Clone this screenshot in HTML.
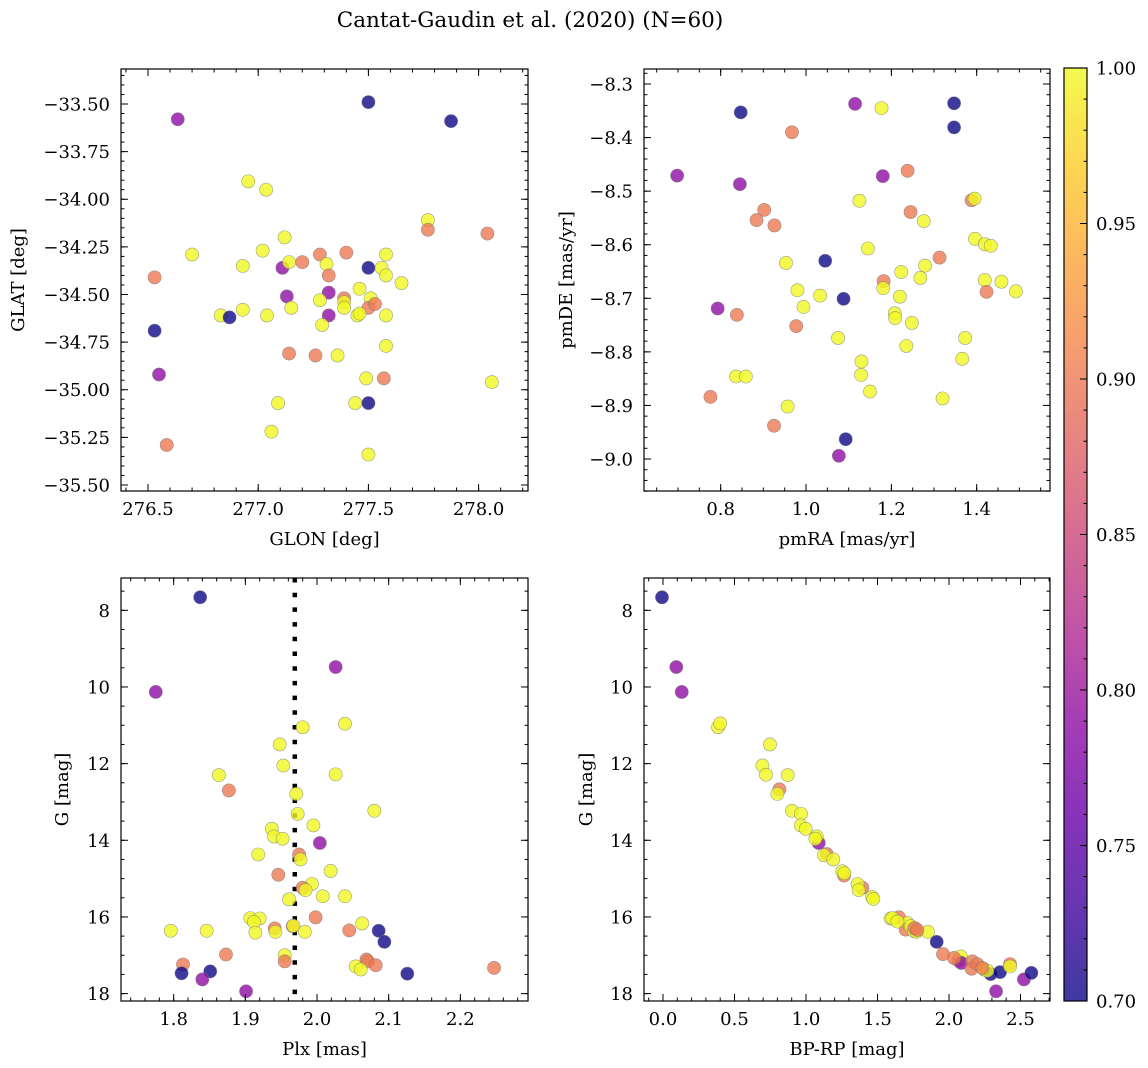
<!DOCTYPE html>
<html><head><meta charset="utf-8">
<style>
html,body{margin:0;padding:0;background:#fff;}
svg{display:block;font-family:"DejaVu Serif","Liberation Serif",serif;}
</style></head>
<body>
<svg id="fig" width="1148" height="1068" viewBox="0 0 1148 1068" xmlns="http://www.w3.org/2000/svg">
<defs>
<linearGradient id="plasmaGrad" x1="0" y1="1" x2="0" y2="0">
<stop offset="0" stop-color="#0d0887"/><stop offset="0.1" stop-color="#41049d"/><stop offset="0.2" stop-color="#6a00a8"/><stop offset="0.3" stop-color="#8f0da4"/><stop offset="0.4" stop-color="#b12a90"/><stop offset="0.5" stop-color="#cc4778"/><stop offset="0.6" stop-color="#e16462"/><stop offset="0.7" stop-color="#f2844b"/><stop offset="0.8" stop-color="#fca636"/><stop offset="0.9" stop-color="#fcce25"/><stop offset="1" stop-color="#f0f921"/>
</linearGradient>
</defs>
<text x="530" y="27" font-size="21.5" text-anchor="middle">Cantat-Gaudin et al. (2020) (N=60)</text>
</svg>
<script>
// ---- data ----
const tlLon = [277.50,277.875,276.635,276.955,277.036,277.77,277.77,278.04,277.12,276.70,277.02,277.28,277.40,277.58,276.53,276.93,277.11,277.14,277.20,277.31,277.50,277.56,277.58,277.32,277.65,277.13,277.32,277.46,277.28,277.39,277.39,277.39,277.51,277.50,277.53,277.45,277.46,277.58,277.15,276.93,276.83,276.87,277.04,277.32,277.29,276.53,277.58,277.14,277.26,277.36,276.55,277.49,277.57,278.06,277.09,277.44,277.50,277.06,276.585,277.50];
const tlLat = [-33.49,-33.59,-33.58,-33.906,-33.95,-34.11,-34.16,-34.18,-34.20,-34.29,-34.27,-34.29,-34.28,-34.29,-34.41,-34.35,-34.36,-34.33,-34.33,-34.34,-34.36,-34.36,-34.40,-34.40,-34.44,-34.51,-34.49,-34.47,-34.53,-34.52,-34.54,-34.57,-34.52,-34.57,-34.55,-34.61,-34.60,-34.61,-34.57,-34.58,-34.61,-34.62,-34.61,-34.61,-34.66,-34.69,-34.77,-34.81,-34.82,-34.82,-34.92,-34.94,-34.94,-34.96,-35.07,-35.07,-35.07,-35.22,-35.29,-35.34];
const tlProb = [0.70,0.70,0.79,1,1,1,0.9,0.9,1,1,1,0.9,0.9,1,0.9,1,0.79,1,0.9,1,0.70,1,1,0.9,1,0.79,0.79,1,1,0.9,1,1,1,0.9,0.9,1,1,1,1,1,1,0.70,1,0.79,1,0.70,1,0.9,0.9,1,0.79,1,0.9,1,1,1,0.70,1,0.9,1];

const trPmra = [0.847,1.115,1.177,1.347,1.347,0.967,0.698,0.845,1.180,1.238,1.125,1.388,1.395,0.902,0.884,0.926,1.245,1.276,1.396,1.419,1.433,1.145,1.313,0.953,1.045,1.223,1.279,1.268,1.182,1.181,1.419,1.458,1.423,1.492,0.980,1.033,1.088,1.220,0.994,0.793,0.838,1.208,1.209,1.248,0.977,1.075,1.373,1.235,1.366,1.130,0.836,0.859,1.129,1.150,0.776,1.320,0.957,0.925,1.093,1.077];
const trPmde = [-8.353,-8.337,-8.345,-8.336,-8.381,-8.390,-8.471,-8.487,-8.472,-8.462,-8.518,-8.517,-8.514,-8.535,-8.554,-8.564,-8.539,-8.556,-8.589,-8.599,-8.602,-8.607,-8.624,-8.634,-8.630,-8.651,-8.639,-8.662,-8.668,-8.681,-8.666,-8.669,-8.688,-8.687,-8.685,-8.695,-8.701,-8.697,-8.716,-8.719,-8.731,-8.728,-8.737,-8.746,-8.752,-8.774,-8.774,-8.789,-8.813,-8.818,-8.846,-8.846,-8.843,-8.874,-8.884,-8.887,-8.902,-8.938,-8.963,-8.994];
const trProb = [0.70,0.79,1,0.70,0.70,0.9,0.79,0.79,0.79,0.9,1,0.9,1,0.9,0.9,0.9,0.9,1,1,1,1,1,0.9,1,0.70,1,1,1,0.9,1,1,1,0.9,1,1,1,0.70,1,1,0.79,0.9,1,1,1,0.9,1,1,1,1,1,1,1,1,1,0.9,1,1,0.9,0.70,0.79];

const blPlx = [1.837,1.775,2.026,1.980,2.039,1.948,1.953,1.863,2.026,1.877,1.971,2.080,1.973,1.937,1.995,1.940,1.952,2.004,1.918,1.975,1.977,2.019,1.946,1.993,1.980,1.984,1.961,2.008,2.039,1.907,1.920,1.912,1.998,1.796,1.846,1.914,1.941,1.942,1.966,1.967,1.983,2.045,2.063,2.086,2.094,1.873,1.955,1.955,1.813,1.811,1.851,1.840,1.901,2.069,2.071,2.082,2.054,2.061,2.126,2.247];
const blG = [7.66,10.13,9.48,11.05,10.96,11.50,12.05,12.30,12.28,12.70,12.79,13.23,13.31,13.70,13.61,13.90,13.96,14.07,14.37,14.37,14.50,14.80,14.90,15.14,15.24,15.30,15.54,15.46,15.46,16.03,16.04,16.13,16.01,16.36,16.36,16.41,16.30,16.39,16.24,16.23,16.39,16.35,16.17,16.36,16.65,16.98,17.00,17.16,17.24,17.47,17.42,17.63,17.94,17.11,17.16,17.26,17.29,17.37,17.48,17.33];
const blProb = [0.70,0.79,0.79,1,1,1,1,1,1,0.9,1,1,1,1,1,1,1,0.79,1,0.9,1,1,0.9,1,0.9,1,1,1,1,1,1,1,0.9,1,1,1,0.9,1,0.9,1,1,0.9,1,0.70,0.70,0.9,1,0.9,0.9,0.70,0.70,0.79,0.79,0.9,0.9,0.9,1,1,0.70,0.9];
const plxMean = [1.969];

const brColor = [-0.007,0.093,0.131,0.385,0.40,0.748,0.695,0.72,0.872,0.814,0.80,0.902,0.965,0.963,0.998,1.089,1.075,1.065,1.145,1.126,1.191,1.266,1.254,1.394,1.361,1.368,1.462,1.471,1.65,1.592,1.604,1.709,1.697,1.732,1.755,1.774,1.853,1.76,1.914,1.958,2.065,2.082,2.086,2.163,2.158,2.198,2.245,2.291,2.357,2.427,2.427,2.524,2.576,2.329,2.268,2.035,2.233,1.779,1.639,1.268];
const brG = [7.66,9.48,10.13,11.05,10.95,11.50,12.05,12.29,12.30,12.67,12.79,13.23,13.31,13.61,13.70,14.07,13.90,13.96,14.36,14.39,14.50,14.92,14.81,15.24,15.14,15.30,15.48,15.53,16.01,16.04,16.03,16.16,16.33,16.24,16.37,16.39,16.39,16.29,16.65,16.97,17.14,17.03,17.20,17.16,17.35,17.23,17.37,17.49,17.44,17.23,17.29,17.63,17.46,17.94,17.40,17.07,17.33,16.34,16.12,14.86];
const brProb = [0.70,0.79,0.79,1,1,1,1,1,1,0.9,1,1,1,1,1,0.79,1,1,0.9,1,1,0.9,1,0.9,1,1,1,1,0.9,1,1,1,0.9,1,1,1,1,0.9,0.70,0.9,0.9,1,0.79,0.9,0.9,0.9,1,0.70,0.70,0.9,1,0.79,0.70,0.79,1,0.9,0.9,0.9,1,1];

const cbTicks = [0.70,0.75,0.80,0.85,0.90,0.95,1.00];

// ---- helpers ----
const NS = "http://www.w3.org/2000/svg";
const svg = document.getElementById("fig");
function mk(tag, attrs, parent){
  const e = document.createElementNS(NS, tag);
  for (const k in attrs) e.setAttribute(k, attrs[k]);
  (parent||svg).appendChild(e);
  return e;
}
const PL = [[13,8,135],[65,4,157],[106,0,168],[143,13,164],[177,42,144],[204,71,120],[225,100,98],[242,132,75],[252,166,54],[252,206,37],[240,249,33]];
function plasma(p){
  let t = (p-0.70)/0.30; t = Math.max(0, Math.min(1, t));
  const f = t*10, i = Math.min(9, Math.floor(f)), r = f - i;
  const c = PL[i].map((v,k)=>Math.round(v + (PL[i+1][k]-v)*r));
  return "rgb("+c.join(",")+")";
}
function lin(d0,d1,r0,r1){ return v => r0 + (v-d0)/(d1-d0)*(r1-r0); }
function range(a,b,s){ const out=[]; const n=Math.round((b-a)/s); for(let i=0;i<=n;i++) out.push(+(a+i*s).toFixed(6)); return out; }
const fmtMinus = s => s.replace("-", "\u2212");

function panel(cfg){
  const g = mk("g", {});
  
  
  const {L,R,T,B} = cfg;
  const sx = lin(cfg.xd[0], cfg.xd[1], L, R);
  const sy = lin(cfg.yd[0], cfg.yd[1], T, B);
  const clipId = "clip-"+cfg.name;
  const cp = mk("clipPath", {id: clipId}, g);
  mk("rect", {x:L, y:T, width:R-L, height:B-T}, cp);
  const marks = mk("g", {"clip-path":"url(#"+clipId+")"}, g);
  
  
  if (cfg.vline){
    cfg.vline.forEach(v=>{
      const ln = mk("line", {x1:sx(v), x2:sx(v), y1:T, y2:B, stroke:"#000", "stroke-width":4.5, "stroke-dasharray":"4.5 10.2"}, marks);
      
      
    });
  }
  for (let i=0;i<cfg.x.length;i++){
    const c = mk("circle", {cx:sx(cfg.x[i]).toFixed(2), cy:sy(cfg.y[i]).toFixed(2), r:6.6, fill:plasma(cfg.p[i]), "fill-opacity":0.8, stroke:"#777", "stroke-opacity":0.7, "stroke-width":0.6}, marks);
    
    
  }
  const tk = mk("g", {stroke:"#000", "stroke-width":1}, g);
  
  
  cfg.xminor.forEach(v=>{ const x=sx(v); if(x<L-0.5||x>R+0.5) return;
    mk("line",{x1:x,x2:x,y1:B,y2:B-3.5},tk); mk("line",{x1:x,x2:x,y1:T,y2:T+3.5},tk); });
  cfg.yminor.forEach(v=>{ const y=sy(v); if(y<T-0.5||y>B+0.5) return;
    mk("line",{x1:L,x2:L+3.5,y1:y,y2:y},tk); mk("line",{x1:R,x2:R-3.5,y1:y,y2:y},tk); });
  cfg.xmajor.forEach(v=>{ const x=sx(v); if(x<L-0.5||x>R+0.5) return;
    mk("line",{x1:x,x2:x,y1:B,y2:B-7},tk); mk("line",{x1:x,x2:x,y1:T,y2:T+7},tk);
    const t = mk("text",{x:x, y:B+24, "font-size":18, "text-anchor":"middle"}, g);
    t.textContent = fmtMinus(cfg.xfmt(v));
    
    
  });
  cfg.ymajor.forEach(v=>{ const y=sy(v); if(y<T-0.5||y>B+0.5) return;
    mk("line",{x1:L,x2:L+7,y1:y,y2:y},tk); mk("line",{x1:R,x2:R-7,y1:y,y2:y},tk);
    const t = mk("text",{x:L-11, y:y+6.5, "font-size":18, "text-anchor":"end"}, g);
    t.textContent = fmtMinus(cfg.yfmt(v));
    
    
  });
  const fr = mk("rect",{x:L,y:T,width:R-L,height:B-T,fill:"none",stroke:"#000","stroke-width":1.2}, g);
  
  
  const xl = mk("text",{x:(L+R)/2, y:B+54, "font-size":18, "text-anchor":"middle"}, g);
  xl.textContent = cfg.xlabel;
  
  
  const yl = mk("text",{x:0, y:0, "font-size":18, "text-anchor":"middle", transform:"translate("+cfg.ylx+","+((T+B)/2)+") rotate(-90)"}, g);
  yl.textContent = cfg.ylabel;
  
  
}

panel({name:"glon-glat-panel", L:121, R:528, T:69, B:491,
  xd:[276.3775,278.2241], yd:[-33.3163,-35.5315],
  x:tlLon, y:tlLat, p:tlProb,
  xmajor:range(276.5,278.0,0.5), xminor:range(276.3,278.3,0.1),
  ymajor:range(-35.5,-33.5,0.25), yminor:range(-35.55,-33.3,0.05),
  xfmt:v=>v.toFixed(1), yfmt:v=>v.toFixed(2),
  xlabel:"GLON [deg]", ylabel:"GLAT [deg]", ylx:24});
panel({name:"pmra-pmde-panel", L:644, R:1050, T:69, B:491,
  xd:[0.6203,1.5718], yd:[-8.272,-9.0597],
  x:trPmra, y:trPmde, p:trProb,
  xmajor:range(0.8,1.4,0.2), xminor:range(0.6,1.6,0.05),
  ymajor:range(-9.0,-8.3,0.1), yminor:range(-9.06,-8.26,0.02),
  xfmt:v=>v.toFixed(1), yfmt:v=>v.toFixed(1),
  xlabel:"pmRA [mas/yr]", ylabel:"pmDE [mas/yr]", ylx:572});
panel({name:"plx-g-panel", L:121, R:528, T:578, B:1001,
  xd:[1.7265,2.2944], yd:[7.157,18.193],
  x:blPlx, y:blG, p:blProb, vline:plxMean,
  xmajor:range(1.8,2.2,0.1), xminor:range(1.72,2.3,0.02),
  ymajor:range(8,18,2), yminor:range(7,18.5,0.5),
  xfmt:v=>v.toFixed(1), yfmt:v=>v.toFixed(0),
  xlabel:"Plx [mas]", ylabel:"G [mag]", ylx:68});
panel({name:"color-magnitude-panel", L:644, R:1050, T:578, B:1001,
  xd:[-0.1329,2.7063], yd:[7.157,18.193],
  x:brColor, y:brG, p:brProb,
  xmajor:range(0,2.5,0.5), xminor:range(-0.1,2.7,0.1),
  ymajor:range(8,18,2), yminor:range(7,18.5,0.5),
  xfmt:v=>v.toFixed(1), yfmt:v=>v.toFixed(0),
  xlabel:"BP-RP [mag]", ylabel:"G [mag]", ylx:592});

(function(){
  const L=1064, R=1087, T=68, B=1001;
  const g = mk("g", {});
  
  
  const sy = lin(0.70, 1.00, B, T);
  const bar = mk("rect",{x:L,y:T,width:R-L,height:B-T,fill:"url(#plasmaGrad)","fill-opacity":0.8}, g);
  
  
  range(0.70,1.00,0.01).forEach(v=>{
    const y = sy(v);
    mk("line",{x1:R,x2:R-3.5,y1:y,y2:y,stroke:"#000","stroke-width":1}, g);
  });
  cbTicks.forEach(v=>{
    const y = sy(v);
    mk("line",{x1:R,x2:R-7,y1:y,y2:y,stroke:"#000","stroke-width":1}, g);
    const t = mk("text",{x:R+9, y:y+6.5, "font-size":18}, g);
    t.textContent = v.toFixed(2);
    
    
  });
  mk("rect",{x:L,y:T,width:R-L,height:B-T,fill:"none",stroke:"#000","stroke-width":1.2}, g);
})();
</script>
</body></html>
